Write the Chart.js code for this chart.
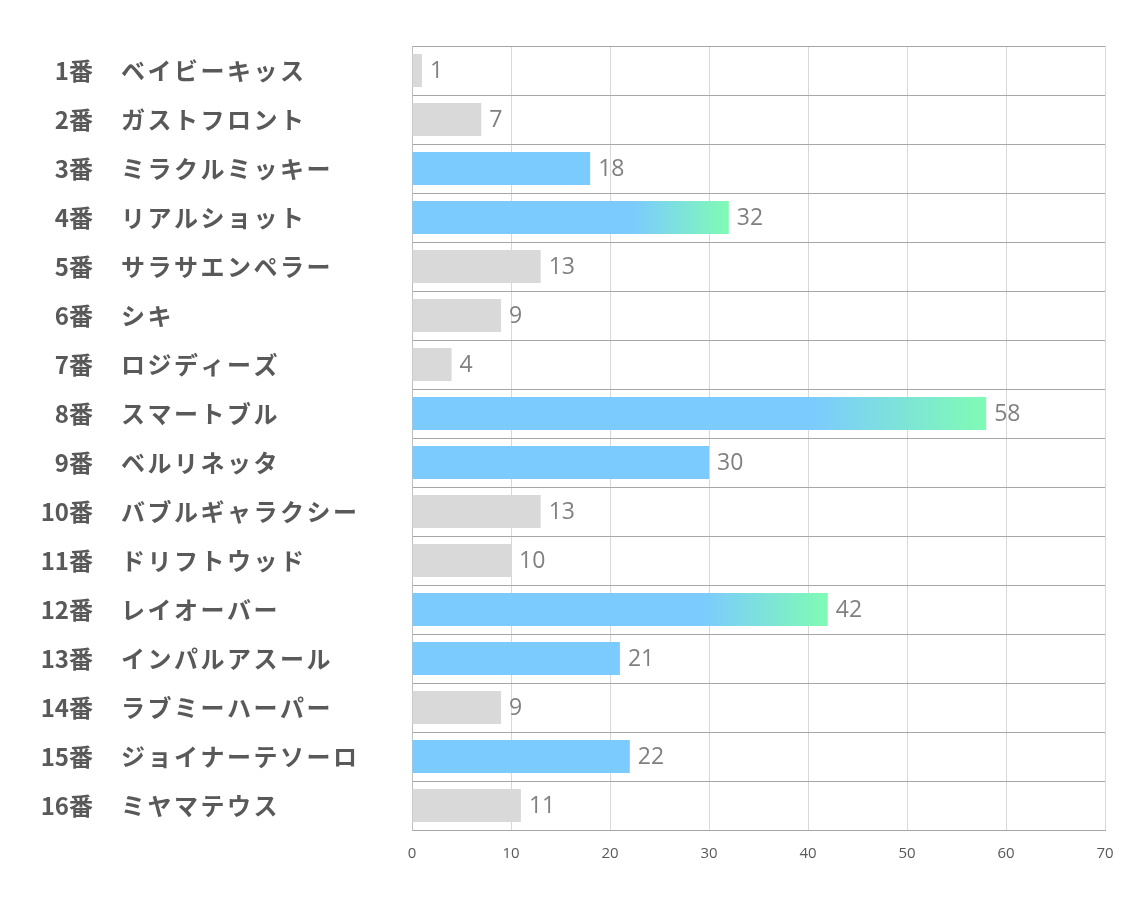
<!DOCTYPE html>
<html lang="ja">
<head>
<meta charset="utf-8">
<title>人気投票</title>
<script src="https://cdn.jsdelivr.net/npm/chart.js@4.4.1/dist/chart.umd.min.js"></script>
<style>
  html, body { margin: 0; padding: 0; background: #fff; }
  #wrap { width: 1134px; height: 907px; }
</style>
</head>
<body>
<div id="wrap"><canvas id="chart" width="1134" height="907"></canvas></div>
<script>
const horseNumbers = ["1番", "2番", "3番", "4番", "5番", "6番", "7番", "8番", "9番", "10番", "11番", "12番", "13番", "14番", "15番", "16番"];
const horseNames = ["ベイビーキッス", "ガストフロント", "ミラクルミッキー", "リアルショット", "サラサエンペラー", "シキ", "ロジディーズ", "スマートブル", "ベルリネッタ", "バブルギャラクシー", "ドリフトウッド", "レイオーバー", "インパルアスール", "ラブミーハーパー", "ジョイナーテソーロ", "ミヤマテウス"];
const votes = [1, 7, 18, 32, 13, 9, 4, 58, 30, 13, 10, 42, 21, 9, 22, 11];
const picked = [3, 4, 8, 9, 12, 13, 15];
const xTicks = [0, 10, 20, 30, 40, 50, 60, 70];

const BLUE = "#7ccbfe";
const GREEN = "#7ffbb4";
const GRAY = "#d9d9d9";

// top three get the blue→green fade
const top3 = [...votes].sort((a, b) => b - a).slice(0, 3);

function barColor(ctx) {
  const i = ctx.dataIndex;
  if (!picked.includes(i + 1)) return GRAY;
  const v = votes[i];
  if (!top3.includes(v)) return BLUE;
  const chart = ctx.chart;
  if (!chart.chartArea) return BLUE;
  const x = chart.scales.x;
  const x0 = x.getPixelForValue(0);
  const x1 = x.getPixelForValue(v);
  const g = chart.ctx.createLinearGradient(x0, 0, x1, 0);
  g.addColorStop(0, BLUE);
  g.addColorStop(0.7, BLUE);
  g.addColorStop(1, GREEN);
  return g;
}

const sideLabels = {
  id: "sideLabels",
  afterDraw(chart) {
    const { ctx, scales } = chart;
    ctx.save();
    ctx.fillStyle = "#595959";
    ctx.font = "bold 24px 'Noto Sans CJK JP', sans-serif";
    ctx.textBaseline = "middle";
    horseNumbers.forEach((n, i) => {
      const y = scales.y.getPixelForValue(i);
      ctx.textAlign = "right";
      ctx.letterSpacing = "0px";
      ctx.fillText(n, 93, y);
      ctx.textAlign = "left";
      ctx.letterSpacing = "2.5px";
      ctx.fillText(horseNames[i], 121, y);
    });
    ctx.restore();
  }
};

const valueLabels = {
  id: "valueLabels",
  afterDatasetsDraw(chart) {
    const { ctx, scales } = chart;
    ctx.save();
    ctx.fillStyle = "#808080";
    ctx.font = "23px 'Open Sans', sans-serif";
    ctx.textBaseline = "middle";
    ctx.textAlign = "left";
    votes.forEach((v, i) => {
      ctx.fillText(String(v), scales.x.getPixelForValue(v) + 8, scales.y.getPixelForValue(i) + 1);
    });
    ctx.restore();
  }
};

new Chart(document.getElementById("chart"), {
  type: "bar",
  data: {
    labels: horseNumbers.map((n, i) => n + " " + horseNames[i]),
    datasets: [{
      data: votes,
      backgroundColor: barColor,
      borderWidth: 0,
      barPercentage: 0.75,
      categoryPercentage: 0.9,
    }],
  },
  options: {
    indexAxis: "y",
    responsive: false,
    animation: false,
    layout: { padding: { left: 412, right: 29, top: 46, bottom: 29 } },
    plugins: { legend: { display: false }, tooltip: { enabled: false } },
    scales: {
      x: {
        min: 0,
        max: 70,
        afterBuildTicks: (s) => { s.ticks = xTicks.map((v) => ({ value: v })); },
        grid: { color: "#d9d9d9", drawTicks: false },
        border: { color: "#a6a6a6" },
        ticks: { color: "#595959", font: { size: 15, family: "'Open Sans', sans-serif" }, padding: 15 },
      },
      y: {
        afterFit: (s) => { s.width = 0; },
        ticks: { display: false },
        grid: { color: "#a6a6a6", drawTicks: false, offset: true },
        border: { color: "#bfbfbf" },
      },
    },
  },
  plugins: [sideLabels, valueLabels],
});
</script>
</body>
</html>
